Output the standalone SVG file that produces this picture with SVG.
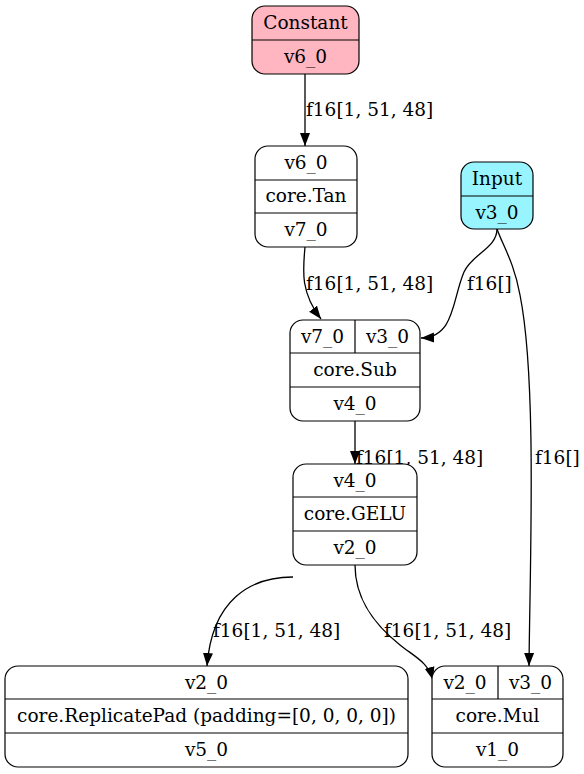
<svg xmlns="http://www.w3.org/2000/svg" width="584" height="774" viewBox="0 0 584 774">
<style>
text{font-family:"DejaVu Serif",serif;font-size:18.5px;fill:#000}
.c{text-anchor:middle}
.box{stroke:#000;stroke-width:1.2;fill:#fff}
.ln{stroke:#000;stroke-width:1.2;fill:none}
.e{stroke:#000;stroke-width:1.3;fill:none;marker-end:url(#ah)}
</style>
<defs>
<marker id="ah" markerUnits="userSpaceOnUse" markerWidth="14" markerHeight="11" refX="13" refY="5.5" orient="auto" viewBox="0 0 14 11">
<path d="M0,0.5 L13,5.5 L0,10.5 Z" fill="#000"/>
</marker>
</defs>
<rect width="584" height="774" fill="#fff"/>
<g id="edges">
<path class="e" d="M305,74 L305,146"/>
<path class="e" d="M305,247 C303,270 300,292 321,319"/>
<path class="e" d="M497,229 C497,248 472,254 464,272 C452,300 455,337 421,338"/>
<path class="e" d="M497,229 C503,246 514,262 520,295 C537,380 530,560 529,666"/>
<path class="e" d="M355,421 L355,464"/>
<path class="e" d="M293,577 C250,577 212,600 207,666"/>
<path class="e" d="M355,565 C355,600 375,625 400,645 C415,657 428,662 433,680"/>
</g>
<g id="labels">
<text x="306" y="116">f16[1, 51, 48]</text>
<text x="306" y="290">f16[1, 51, 48]</text>
<text x="467" y="290">f16[]</text>
<text x="535" y="464">f16[]</text>
<text x="356" y="464">f16[1, 51, 48]</text>
<text x="213" y="637">f16[1, 51, 48]</text>
<text x="384" y="637">f16[1, 51, 48]</text>
</g>
<g id="n_constant">
<rect x="252" y="6" width="107" height="68" rx="13" class="box" style="fill:#ffb6c1"/>
<line class="ln" x1="252" y1="40" x2="359" y2="40"/>
<text class="c" x="305.5" y="29">Constant</text>
<text class="c" x="305.5" y="63">v6_0</text>
</g>
<g id="n_tan">
<rect x="255" y="146" width="102" height="101" rx="13" class="box"/>
<line class="ln" x1="255" y1="180" x2="357" y2="180"/>
<line class="ln" x1="255" y1="213" x2="357" y2="213"/>
<text class="c" x="306" y="169">v6_0</text>
<text class="c" x="306" y="202">core.Tan</text>
<text class="c" x="306" y="236">v7_0</text>
</g>
<g id="n_input">
<rect x="461" y="162" width="72" height="67" rx="13" class="box" style="fill:#98f5ff"/>
<line class="ln" x1="461" y1="196" x2="533" y2="196"/>
<text class="c" x="497" y="185">Input</text>
<text class="c" x="497" y="219">v3_0</text>
</g>
<g id="n_sub">
<rect x="290" y="320" width="130" height="101" rx="13" class="box"/>
<line class="ln" x1="290" y1="353" x2="420" y2="353"/>
<line class="ln" x1="290" y1="387" x2="420" y2="387"/>
<line class="ln" x1="355" y1="320" x2="355" y2="353"/>
<text class="c" x="322.5" y="343">v7_0</text>
<text class="c" x="387.5" y="343">v3_0</text>
<text class="c" x="355" y="376">core.Sub</text>
<text class="c" x="355" y="410">v4_0</text>
</g>
<g id="n_gelu">
<rect x="293" y="464" width="124" height="101" rx="13" class="box"/>
<line class="ln" x1="293" y1="497" x2="417" y2="497"/>
<line class="ln" x1="293" y1="531" x2="417" y2="531"/>
<text class="c" x="355" y="487">v4_0</text>
<text class="c" x="355" y="520">core.GELU</text>
<text class="c" x="355" y="554">v2_0</text>
</g>
<g id="n_pad">
<rect x="5" y="666" width="403" height="101" rx="13" class="box"/>
<line class="ln" x1="5" y1="699" x2="408" y2="699"/>
<line class="ln" x1="5" y1="733" x2="408" y2="733"/>
<text class="c" x="206.5" y="689">v2_0</text>
<text class="c" x="206.5" y="722">core.ReplicatePad (padding=[0, 0, 0, 0])</text>
<text class="c" x="206.5" y="756">v5_0</text>
</g>
<g id="n_mul">
<rect x="432" y="666" width="131" height="101" rx="13" class="box"/>
<line class="ln" x1="432" y1="699" x2="563" y2="699"/>
<line class="ln" x1="432" y1="733" x2="563" y2="733"/>
<line class="ln" x1="498" y1="666" x2="498" y2="699"/>
<text class="c" x="465" y="689">v2_0</text>
<text class="c" x="530.5" y="689">v3_0</text>
<text class="c" x="497.5" y="722">core.Mul</text>
<text class="c" x="497.5" y="756">v1_0</text>
</g>
</svg>
